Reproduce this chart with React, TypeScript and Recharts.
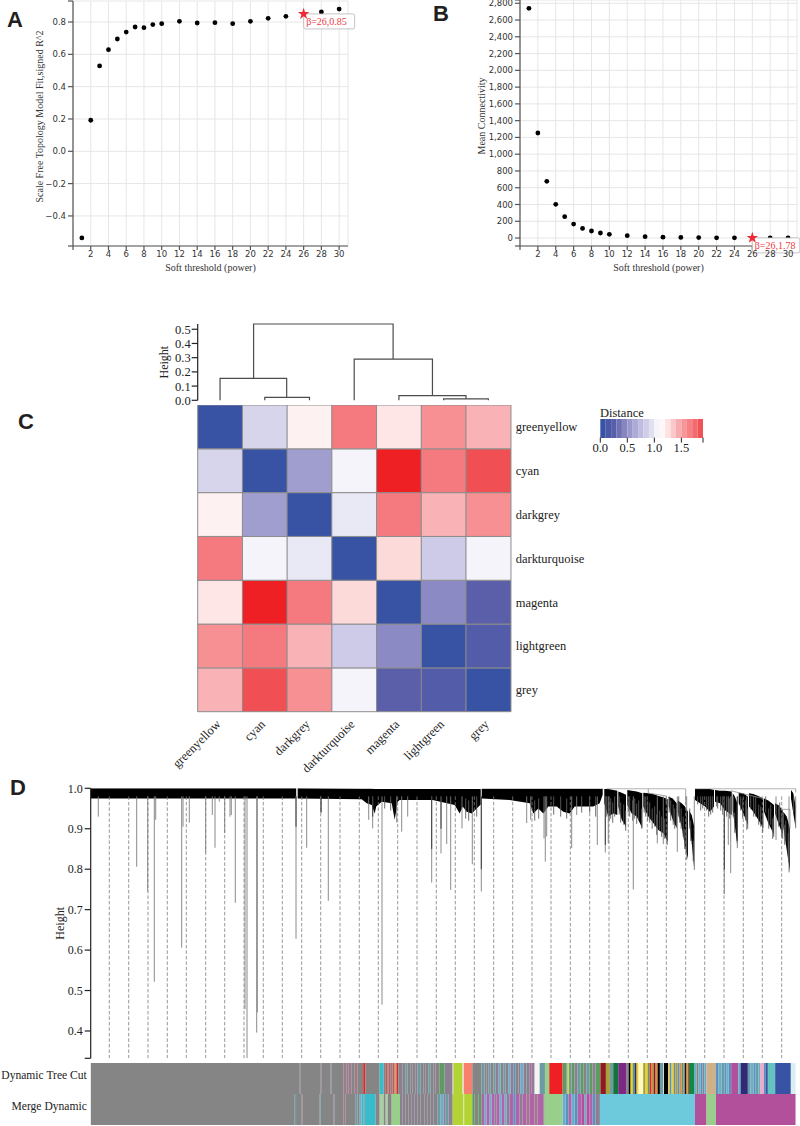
import {
  Area,
  Bar,
  BarChart,
  CartesianGrid,
  Cell,
  ComposedChart,
  Line,
  LineChart,
  Scatter,
  ScatterChart,
  Symbols,
  XAxis,
  YAxis,
} from "recharts";

const SERIF = '"Liberation Serif", serif';
const SANS = '"DejaVu Sans", sans-serif';

// panels A and B
const powers = [1, 2, 3, 4, 5, 6, 7, 8, 9, 10, 12, 14, 16, 18, 20, 22, 24, 28, 30];
const fitValues = [
  -0.536, 0.192, 0.528, 0.629, 0.695, 0.738, 0.769, 0.765, 0.784, 0.79, 0.804, 0.794, 0.796,
  0.79, 0.804, 0.823, 0.835, 0.862, 0.88,
];
const connectivityValues = [
  2740, 1253, 676, 402, 255, 167, 115, 84, 60, 44, 28, 16, 10, 7, 5, 3, 2.5, 1, 0.8,
];
const powerTicks = [0, 2, 4, 6, 8, 10, 12, 14, 16, 18, 20, 22, 24, 26, 28, 30];
const fitTicks = [-0.586, -0.4, -0.2, 0, 0.2, 0.4, 0.6, 0.8, 0.93];
const connectivityTicks = [
  -95, 0, 200, 400, 600, 800, 1000, 1200, 1400, 1600, 1800, 2000, 2200, 2400, 2600, 2800, 2839,
];
const chosenPower = 26;
const chosenFit = 0.85;
const chosenConnectivity = 1.78;

// panel C
const moduleNames = [
  "greenyellow",
  "cyan",
  "darkgrey",
  "darkturquoise",
  "magenta",
  "lightgreen",
  "grey",
];
const distanceRows = [
  [0, 0.8, 1.07, 1.55, 1.12, 1.45, 1.3],
  [0.8, 0, 0.5, 0.95, 1.9, 1.55, 1.72],
  [1.07, 0.5, 0, 0.9, 1.55, 1.3, 1.45],
  [1.55, 0.95, 0.9, 0, 1.18, 0.75, 0.95],
  [1.12, 1.9, 1.55, 1.18, 0, 0.4, 0.2],
  [1.45, 1.55, 1.3, 0.75, 0.4, 0, 0.15],
  [1.3, 1.72, 1.45, 0.95, 0.2, 0.15, 0],
];
const distanceStops: [number, string][] = [
  [0, "#3953a4"],
  [0.2, "#5b5fa9"],
  [0.4, "#8c8ac4"],
  [0.5, "#a09ece"],
  [0.75, "#cdcbe7"],
  [0.9, "#e9e9f5"],
  [1, "#ffffff"],
  [1.18, "#fddada"],
  [1.3, "#f9b3b7"],
  [1.45, "#f69092"],
  [1.55, "#f57a80"],
  [1.72, "#f05053"],
  [1.9, "#ee2024"],
];
const legendSteps = [
  0, 0.1, 0.2, 0.3, 0.4, 0.5, 0.6, 0.7, 0.8, 0.9, 1, 1.1, 1.2, 1.3, 1.4, 1.5, 1.6, 1.7, 1.8,
];
const heightTicks = [0, 0.1, 0.2, 0.3, 0.4, 0.5];

// each link is a merge: left leg, join height, right leg
const treeLinks = [
  [[0.5, 0], [0.5, 0.155], [1.99, 0.155], [1.99, 0.02]],
  [[1.5, 0], [1.5, 0.02], [2.5, 0.02], [2.5, 0]],
  [[1.25, 0.155], [1.25, 0.537], [4.37, 0.537], [4.37, 0.29]],
  [[3.5, 0], [3.5, 0.29], [5.25, 0.29], [5.25, 0.033]],
  [[4.5, 0], [4.5, 0.033], [6, 0.033], [6, 0.01]],
  [[5.5, 0], [5.5, 0.01], [6.5, 0.01], [6.5, 0]],
];

// panel D
const geneTreeTicks = [0.3325, 0.4, 0.5, 0.6, 0.7, 0.8, 0.9, 1];
const guideRanks = [
  18.6, 38, 57.3, 76.6, 95.6, 115, 134, 153.3, 172.6, 191.6, 211, 230, 249.3, 268.6, 287.6, 307,
  326.3, 345.6, 364.6, 383.6, 403, 422, 441.3, 460.3, 479.6, 499, 518.3, 537.6, 556.6, 575.6, 595,
  614, 633.3, 652.6, 671.6, 691,
];
const spikes: [number, number][] = [
  [7.6, 0.93], [46, 0.806], [57, 0.745], [63.6, 0.522], [65, 0.922], [91, 0.606], [92.3, 0.905],
  [98.6, 0.915], [115, 0.841], [121.6, 0.934], [124.3, 0.853], [128.6, 0.967], [134, 0.889],
  [139.3, 0.93], [140.6, 0.934], [144.6, 0.717], [154.3, 0.454], [156.3, 0.333], [166, 0.396],
  [166.6, 0.446], [205.3, 0.628], [216, 0.853], [230, 0.94], [237.6, 0.722], [278, 0.922],
  [282, 0.901], [291.3, 0.465], [306, 0.915], [311, 0.893], [317, 0.93], [341, 0.767],
  [350.3, 0.839], [356, 0.862], [360, 0.749], [371.3, 0.901], [381.6, 0.812], [390.6, 0.745],
  [436, 0.914], [440, 0.922], [453.3, 0.876], [454.6, 0.819], [456, 0.881], [481, 0.852],
  [486, 0.934], [506.6, 0.86], [514.6, 0.841], [517.6, 0.864], [542.6, 0.75], [566.6, 0.864],
  [572.6, 0.862], [586.6, 0.843], [596, 0.823], [603.6, 0.798], [633.6, 0.738], [637.6, 0.86],
  [640, 0.79], [646.6, 0.852], [656, 0.897], [685.3, 0.872], [698.3, 0.792], [705, 0.901],
];
const darkSpikes: [number, number][] = [
  [205.3, 0.905], [230.5, 0.94], [282, 0.93], [341, 0.85], [350.3, 0.9], [390.6, 0.8],
  [514.6, 0.86], [633.6, 0.8], [646.6, 0.87],
];
const drips: [number, number][] = [
  [516, 0.93], [520, 0.925], [524, 0.93], [530, 0.915], [533, 0.91], [539, 0.93], [544, 0.925],
  [548, 0.92], [551, 0.9], [555, 0.93], [559, 0.915], [564, 0.905], [569, 0.895], [574, 0.875],
  [576.5, 0.86], [580, 0.92], [584, 0.9], [589, 0.915], [592.5, 0.88], [595.5, 0.84], [600, 0.87],
  [607, 0.96], [612, 0.95], [616, 0.945], [620, 0.935], [627, 0.95], [632, 0.935], [639, 0.925],
  [644, 0.89], [650, 0.945], [655, 0.92], [660, 0.95], [665, 0.93], [670, 0.905], [675, 0.94],
  [680, 0.91], [683, 0.88], [689, 0.915], [692, 0.875], [695, 0.87], [697.5, 0.84], [703, 0.94],
  [294, 0.95], [300, 0.945], [375, 0.925], [378, 0.92], [386, 0.93], [444, 0.92], [448, 0.925],
  [463, 0.935], [470, 0.93], [476, 0.925], [491, 0.94], [499, 0.94], [505, 0.93],
  [518.5, 0.92], [522, 0.915], [528.5, 0.935], [535, 0.895], [537.5, 0.94], [542, 0.92],
  [546, 0.912], [553.5, 0.94], [557, 0.92], [561.5, 0.9], [566, 0.885], [571, 0.88], [578.5, 0.94],
  [582.5, 0.91], [588, 0.93], [590.5, 0.9], [594, 0.85], [599, 0.9], [602.5, 0.82], [610, 0.945],
  [618, 0.93], [622, 0.94], [626, 0.955], [630, 0.945], [636, 0.93], [642.5, 0.93], [652, 0.925],
  [657, 0.9], [663, 0.93], [668, 0.91], [672, 0.89], [678, 0.9], [682, 0.875], [688, 0.905],
  [691, 0.88], [694, 0.86], [698, 0.82],
];
// rank, upper edge, lower edge of the black band; null leaves a gap
const bandEdges: [number, number | null, number | null][] = [
  [0, 1, 0.975], [205.5, 1, 0.975], [206, null, null], [207, 1, 0.975], [271, 0.999, 0.973],
  [276, 0.999, 0.963], [281, 0.999, 0.959], [284, 0.998, 0.938], [285.5, 0.998, 0.955],
  [291, 0.998, 0.967], [301, 0.998, 0.963], [304, 0.998, 0.922], [307, 0.998, 0.967],
  [309, 0.998, 0.971], [342, 0.998, 0.971], [364, 0.998, 0.959], [369, 0.998, 0.938],
  [372, 0.998, 0.955], [376, 0.998, 0.942], [381, 0.998, 0.938], [388, 0.998, 0.955],
  [390, 0.998, 0.96], [390.5, null, null], [391, 0.999, 0.975], [419, 0.999, 0.971],
  [439, 0.999, 0.963], [442.6, 0.999, 0.938], [447.6, 0.999, 0.95], [452.6, 0.999, 0.938],
  [457.6, 0.999, 0.955], [466, 0.999, 0.955], [472.6, 0.999, 0.942], [479, 0.999, 0.938],
  [484, 0.999, 0.955], [496, 0.999, 0.955], [502.6, 0.999, 0.955], [509, 0.999, 0.963],
  [512, 0.999, 0.984], [513, null, null],
  [513.6, 0.998, 0.963], [517.6, 0.998, 0.93], [522.6, 0.996, 0.938], [526.6, 0.994, 0.934],
  [527.1, null, null],
  [527.6, 0.992, 0.955], [531, 0.989, 0.922], [535.3, 0.984, 0.905], [536, null, null],
  [536.6, 0.996, 0.959], [541, 0.994, 0.938], [546, 0.992, 0.93], [551.6, 0.988, 0.901],
  [552.1, null, null],
  [552.6, 0.989, 0.955], [557.6, 0.988, 0.93], [562.6, 0.986, 0.914], [567.6, 0.981, 0.897],
  [572.6, 0.978, 0.889], [577, 0.973, 0.868], [577.5, null, null],
  [578, 0.979, 0.955], [582, 0.975, 0.922], [586, 0.963, 0.901], [586.5, null, null],
  [587, 0.97, 0.942], [591, 0.963, 0.905], [594.3, 0.955, 0.856], [597.3, 0.942, 0.825],
  [597.8, null, null],
  [598.3, 0.946, 0.922], [601, 0.934, 0.864], [603.6, 0.905, 0.8], [604, null, null],
  [604.3, 0.998, 0.971], [609.3, 0.998, 0.963], [614.3, 0.998, 0.955], [619.3, 0.998, 0.942],
  [623.3, 0.996, 0.955], [623.8, null, null],
  [624.3, 0.996, 0.967], [629.3, 0.994, 0.963], [634.3, 0.994, 0.946], [641, 0.992, 0.934],
  [641.5, null, null],
  [642, 0.988, 0.946], [644.3, 0.979, 0.905], [646.6, 0.963, 0.856], [647.3, null, null],
  [648, 0.989, 0.963], [652.6, 0.988, 0.938], [657.3, 0.979, 0.909], [657.8, null, null],
  [658.3, 0.988, 0.955], [662.6, 0.986, 0.942], [667.6, 0.981, 0.922], [672.6, 0.975, 0.901],
  [673, null, null],
  [673.3, 0.975, 0.942], [677.6, 0.97, 0.914], [683.3, 0.959, 0.885], [683.8, null, null],
  [684.3, 0.963, 0.938], [687.6, 0.959, 0.914], [692, 0.946, 0.885], [692.3, null, null],
  [692.6, 0.942, 0.905], [696, 0.93, 0.848], [699.3, 0.901, 0.794], [699.8, null, null],
  [700.3, 0.996, 0.975], [702.6, 0.988, 0.938], [705, 0.955, 0.901],
];
const branchPoints: [number, number | null][] = [
  [516, 0.999], [595, 0.999], [595, 0.96], [595, null],
  [557.6, 0.999], [557.6, 0.988], [575.6, 0.981], [575.6, 0.963], [575.6, null],
  [604.3, 0.999], [705, 0.999], [705, 0.99], [705, null],
  [640, 0.994], [672, 0.975], [672, null],
  [690, 0.948], [699.3, 0.948], [699.3, 0.9],
];

const moduleColors: Record<string, string> = {
  grey: "#858585",
  plum: "#8d7f93",
  slate: "#7a8a96",
  rose: "#a07a8a",
  teal: "#6b9ca3",
  sky: "#6aaecb",
  steel: "#5b92bd",
  orchid: "#b063ab",
  red: "#ee2024",
  brick: "#c65a5a",
  orange: "#e58a3c",
  cyan: "#38bccb",
  aqua: "#6dc9dc",
  moss: "#5e9a62",
  sage: "#a8d0a0",
  lightgreen: "#98cf8a",
  yellowgreen: "#b3d334",
  salmon: "#f8806f",
  white: "#f4f4f4",
  pale: "#fffac0",
  darkred: "#8e1b1f",
  olive: "#a8a03a",
  gold: "#f0d21f",
  darkgreen: "#13733a",
  green: "#0d8b45",
  purple: "#7b2a83",
  black: "#000000",
  blue: "#3953a4",
  tan: "#cfb087",
  magenta: "#b3509b",
  navy: "#2e2a78",
  pink: "#f4a8c4",
  turquoise: "#63c4c0",
  ice: "#d7eef3",
};

// each run is [rank where it ends, colour module]
const treeCutRuns: [number, string][] = [
  [209, "grey"], [210, "plum"], [230, "grey"], [231, "plum"], [240, "grey"], [241, "slate"],
  [253, "grey"], [256, "rose"], [258, "grey"], [261, "rose"], [264, "grey"], [267, "rose"],
  [272.5, "grey"], [274.5, "red"], [289, "grey"], [293, "cyan"], [294.5, "grey"], [296.5, "brick"],
  [298, "grey"], [300, "brick"], [302, "grey"], [304, "brick"], [305, "orange"], [306, "grey"],
  [307.5, "red"], [309.3, "grey"], [312, "plum"], [315, "grey"], [317, "teal"], [320, "grey"],
  [322, "plum"], [325, "grey"], [327, "plum"], [330, "teal"], [333, "grey"], [335, "plum"],
  [338, "grey"], [340, "teal"], [343, "grey"], [345, "plum"], [349, "grey"], [354, "moss"],
  [362, "plum"], [362.6, "white"], [372, "yellowgreen"], [373, "white"], [381.6, "salmon"],
  [391, "grey"], [394, "teal"], [396, "grey"], [398, "plum"], [400, "teal"], [403, "grey"],
  [405, "teal"], [408, "plum"], [410, "sky"], [413, "grey"], [415, "teal"], [418, "plum"],
  [420, "sky"], [423, "plum"], [425, "steel"], [428, "grey"], [430, "plum"], [433, "sky"],
  [436, "plum"], [439, "grey"], [441, "orchid"], [444, "plum"], [449, "white"], [454.3, "teal"],
  [458.6, "lightgreen"], [472, "red"], [476, "moss"], [477, "teal"], [478.3, "gold"], [481, "teal"],
  [484, "moss"], [487, "plum"], [490, "teal"], [493, "moss"], [496, "grey"], [499, "teal"],
  [502, "moss"], [505, "plum"], [509.8, "moss"], [515.3, "darkred"], [519.3, "olive"],
  [522.6, "teal"], [527.6, "darkgreen"], [536, "purple"], [538, "grey"], [540, "black"],
  [542, "gold"], [544, "moss"], [546, "navy"], [548, "gold"], [552.6, "pale"], [555, "olive"],
  [557, "gold"], [559, "moss"], [561, "red"], [563, "olive"], [565, "darkred"], [567, "orange"],
  [569.3, "black"], [572.6, "teal"], [573.3, "white"], [577.6, "black"], [579, "gold"],
  [581, "steel"], [583, "gold"], [585, "slate"], [587, "olive"], [589, "steel"], [591, "orange"],
  [593, "moss"], [594.5, "plum"], [596, "black"], [597, "gold"], [598.3, "red"], [604, "green"],
  [606, "sky"], [608, "grey"], [610, "sky"], [612, "steel"], [614, "slate"], [616, "sky"],
  [625.3, "tan"], [628, "steel"], [631, "sky"], [634, "teal"], [636, "steel"], [638, "sky"],
  [640.6, "steel"], [647.6, "magenta"], [650, "sky"], [657.3, "navy"], [660, "teal"], [663, "sky"],
  [665, "steel"], [668, "teal"], [670, "sky"], [673.3, "pink"], [675, "steel"], [677.3, "blue"],
  [684.6, "turquoise"], [700.3, "blue"], [705, "ice"],
];
const mergedRuns: [number, string][] = [
  [204, "grey"], [205.3, "teal"], [211, "grey"], [212, "plum"], [229, "grey"], [230, "teal"],
  [243, "grey"], [244, "plum"], [253, "grey"], [255, "rose"], [265, "grey"], [267, "teal"],
  [269, "grey"], [271, "sky"], [273, "cyan"], [274, "grey"], [285, "cyan"], [289, "grey"],
  [293, "sage"], [295, "grey"], [297, "sage"], [301, "grey"], [309.3, "lightgreen"], [312, "plum"],
  [315, "grey"], [318, "plum"], [321, "grey"], [324, "plum"], [327, "grey"], [330, "plum"],
  [334, "grey"], [337, "plum"], [340, "grey"], [343, "plum"], [347, "grey"], [350, "teal"],
  [353, "sky"], [355, "plum"], [358, "teal"], [362, "plum"], [373, "yellowgreen"], [373.5, "white"],
  [381.6, "yellowgreen"], [384, "moss"], [388, "grey"], [391, "moss"], [394, "orchid"],
  [396, "sky"], [399, "orchid"], [401, "sky"], [404, "orchid"], [406, "plum"], [409, "orchid"],
  [411, "sky"], [414, "orchid"], [416, "sky"], [419, "plum"], [422.6, "orchid"], [425, "steel"],
  [429, "orchid"], [432, "plum"], [436, "orchid"], [439, "rose"], [444, "orchid"], [447, "rose"],
  [452.6, "orchid"], [454, "grey"], [472, "lightgreen"], [475, "sky"], [478, "steel"],
  [481, "orchid"], [484, "sky"], [487, "steel"], [491, "orchid"], [494, "magenta"], [496, "sky"],
  [499, "magenta"], [502, "orchid"], [505, "steel"], [509.3, "plum"], [604.3, "aqua"],
  [616, "magenta"], [625.3, "lightgreen"], [705, "magenta"],
];

const treeRowLabel = "Dynamic Tree Cut";
const mergedRowLabel = "Merge Dynamic";

const hexToRgb = (hex: string) => [
  parseInt(hex.slice(1, 3), 16),
  parseInt(hex.slice(3, 5), 16),
  parseInt(hex.slice(5, 7), 16),
];

function distanceColor(value: number): string {
  const upper = distanceStops.findIndex(([stop]) => stop >= value);
  if (upper <= 0) {
    return distanceStops[0][1];
  }
  const [lowStop, lowHex] = distanceStops[upper - 1];
  const [highStop, highHex] = distanceStops[upper];
  const share = (value - lowStop) / (highStop - lowStop);
  const low = hexToRgb(lowHex);
  const high = hexToRgb(highHex);
  const mixed = low.map((channel, i) => Math.round(channel + (high[i] - channel) * share));
  return `rgb(${mixed.join(",")})`;
}

function spikePoints(list: [number, number][], from: number | null) {
  return list.flatMap(([rank, low]) => [
    { rank, h: from ?? Math.min(low + 0.05, 0.98) },
    { rank, h: low },
    { rank, h: null },
  ]);
}

const axisText = { fontSize: 8.5, fontFamily: SANS, fill: "#333333" };
const serifText = { fontSize: 12, fontFamily: SERIF, fill: "#222222" };
const moduleText = { fontSize: 12.5, fontFamily: SERIF, fill: "#222222" };
const labelText = { fontSize: 10, fontFamily: SERIF, fill: "#333333" };

function Placed({
  left,
  top,
  children,
}: {
  left: number;
  top: number;
  children: React.ReactNode;
}) {
  return <div style={{ position: "absolute", left, top }}>{children}</div>;
}

function PanelLetter({ left, top, text }: { left: number; top: number; text: string }) {
  return (
    <div
      style={{
        position: "absolute",
        left,
        top,
        fontFamily: '"Liberation Sans", sans-serif',
        fontWeight: 700,
        fontSize: 22,
        lineHeight: "22px",
        color: "#231f20",
      }}
    >
      {text}
    </div>
  );
}

function Marked(props: any) {
  const { cx, cy, caption, boxWidth } = props;
  return (
    <g>
      <rect
        x={cx}
        y={cy}
        width={boxWidth}
        height={15}
        rx={2}
        fill="#ffffff"
        stroke="#b5b5b5"
        strokeWidth={0.8}
      />
      <Symbols cx={cx} cy={cy} type="star" size={42} fill="#ee2a3a" />
      <text x={cx + 2.5} y={cy + 11} fontSize={10} fontFamily={SERIF} fill="#ee3a45">
        {caption}
      </text>
    </g>
  );
}

function ThresholdScatter({
  width,
  height,
  marginTop,
  marginRight,
  axisWidth,
  values,
  yDomain,
  yTicks,
  yLabel,
  labelShift,
  formatY,
  markedValue,
  caption,
  boxWidth,
}: {
  width: number;
  height: number;
  marginTop: number;
  marginRight: number;
  axisWidth: number;
  values: number[];
  yDomain: [number, number];
  yTicks: number[];
  yLabel: string;
  labelShift: number;
  formatY: (value: number) => string;
  markedValue: number;
  caption: string;
  boxWidth: number;
}) {
  const points = powers.map((power, i) => ({ power, value: values[i] }));
  return (
    <ScatterChart
      width={width}
      height={height}
      margin={{ top: marginTop, right: marginRight, bottom: 0, left: 0 }}
    >
      <CartesianGrid stroke="#e6e6e6" strokeWidth={1} />
      <XAxis
        dataKey="power"
        type="number"
        domain={[0, 31]}
        ticks={powerTicks}
        interval={0}
        height={44}
        tick={axisText}
        tickFormatter={(v: number) => (v === 0 ? "" : String(v))}
        tickSize={4}
        tickMargin={1}
        stroke="#555555"
        strokeWidth={1.2}
        label={{
          value: "Soft threshold (power)",
          position: "insideBottom",
          offset: 19,
          style: labelText,
        }}
      />
      <YAxis
        dataKey="value"
        type="number"
        domain={yDomain}
        ticks={yTicks}
        interval={0}
        width={axisWidth}
        tick={axisText}
        tickFormatter={formatY}
        tickSize={5}
        tickMargin={2}
        stroke="#555555"
        strokeWidth={1.2}
        label={{
          value: yLabel,
          angle: -90,
          position: "center",
          dx: labelShift,
          dy: -7,
          style: labelText,
        }}
      />
      <XAxis
        xAxisId="frame"
        orientation="top"
        type="number"
        domain={[0, 31]}
        height={0}
        tick={false}
        tickLine={false}
        stroke="#555555"
        strokeWidth={1.2}
      />
      <YAxis
        yAxisId="frame"
        orientation="right"
        type="number"
        domain={[0, 1]}
        width={0}
        tick={false}
        tickLine={false}
        stroke="#555555"
        strokeWidth={1.2}
      />
      <Scatter
        data={points}
        isAnimationActive={false}
        shape={(p: any) => <circle cx={p.cx} cy={p.cy} r={2.4} fill="#000000" />}
      />
      <Scatter
        data={[{ power: chosenPower, value: markedValue }]}
        isAnimationActive={false}
        shape={(shapeProps: any) => (
          <Marked {...shapeProps} caption={caption} boxWidth={boxWidth} />
        )}
      />
    </ScatterChart>
  );
}

function ClusterTree() {
  return (
    <LineChart
      width={400}
      height={100}
      margin={{ top: 14, right: 29.3, bottom: 9.7, left: 0 }}
    >
      <XAxis dataKey="x" type="number" domain={[0, 7]} hide />
      <YAxis
        dataKey="h"
        type="number"
        domain={[0, 0.537]}
        ticks={heightTicks}
        interval={0}
        width={57.7}
        tick={{ ...serifText, fontSize: 12.5 }}
        tickFormatter={(v: number) => v.toFixed(1)}
        tickSize={6}
        tickMargin={1}
        stroke="#222222"
        strokeWidth={1.2}
        label={{
          value: "Height",
          angle: -90,
          position: "center",
          dx: -5,
          style: serifText,
        }}
      />
      {treeLinks.map((link, i) => (
        <Line
          key={i}
          data={link.map(([x, h]) => ({ x, h }))}
          dataKey="h"
          dot={false}
          stroke="#4c4c4c"
          strokeWidth={1.2}
          isAnimationActive={false}
        />
      ))}
    </LineChart>
  );
}

function DistanceHeatmap() {
  const columns = moduleNames.map((name) => ({ name }));
  // stack from the bottom row up, so the first row of the matrix ends on top
  const rowsBottomUp = distanceRows.map((_, i) => distanceRows.length - 1 - i);
  return (
    <BarChart
      width={460.7}
      height={390}
      data={columns}
      barCategoryGap={0}
      margin={{ top: 0, right: 0, bottom: 0, left: 57.7 }}
    >
      <XAxis
        dataKey="name"
        interval={0}
        height={83.3}
        axisLine={false}
        tickLine={false}
        tickMargin={1}
        tick={{ ...moduleText, angle: -45, textAnchor: "end", dx: -5 }}
      />
      <YAxis
        orientation="right"
        type="number"
        domain={[0, 7]}
        ticks={[6.5, 5.5, 4.5, 3.5, 2.5, 1.5, 0.5]}
        interval={0}
        width={90}
        axisLine={false}
        tickLine={false}
        tickMargin={-1}
        tick={moduleText}
        tickFormatter={(v: number) => moduleNames[Math.round(6.5 - v)]}
      />
      {rowsBottomUp.map((row) => (
        <Bar
          key={row}
          dataKey={() => 1}
          stackId="rows"
          isAnimationActive={false}
        >
          {distanceRows[row].map((value, col) => (
            <Cell key={col} fill={distanceColor(value)} stroke="#8d8d8d" strokeWidth={1} />
          ))}
        </Bar>
      ))}
    </BarChart>
  );
}

function DistanceLegend() {
  const row = [
    Object.fromEntries(legendSteps.map((step) => [`step${step}`, 0.1])),
  ];
  return (
    <BarChart
      layout="vertical"
      width={130}
      height={48}
      data={row}
      barCategoryGap={0}
      margin={{ top: 0, right: 17, bottom: 0, left: 10.3 }}
    >
      <XAxis
        type="number"
        domain={[0, 1.9]}
        ticks={[0, 0.5, 1, 1.5, 1.9]}
        interval={0}
        height={29.4}
        axisLine={false}
        tickSize={5}
        tickMargin={1}
        stroke="#222222"
        tick={moduleText}
        tickFormatter={(v: number) => (v === 1.9 ? "" : v.toFixed(1))}
      />
      <YAxis type="category" hide />
      {legendSteps.map((step) => (
        <Bar
          key={step}
          dataKey={`step${step}`}
          stackId="ramp"
          fill={distanceColor(step * 0.95)}
          isAnimationActive={false}
        />
      ))}
    </BarChart>
  );
}

function GeneTree() {
  const bandRows = bandEdges.map(([rank, high, low]) => ({
    rank,
    span: high === null ? null : [low, high],
  }));
  const guides = spikePoints(
    guideRanks.map((rank) => [rank, 0.3325] as [number, number]),
    0.98,
  );
  return (
    <ComposedChart
      width={800}
      height={282}
      data={bandRows}
      margin={{ top: 8.3, right: 4.3, bottom: 0.7, left: 0 }}
    >
      <XAxis
        dataKey="rank"
        type="number"
        domain={[0, 705]}
        ticks={guideRanks}
        interval={0}
        height={3}
        axisLine={false}
        tickSize={2}
        stroke="#777777"
        tick={false}
      />
      <YAxis
        type="number"
        domain={[0.3325, 1]}
        allowDataOverflow
        ticks={geneTreeTicks}
        interval={0}
        width={90.7}
        tick={serifText}
        tickFormatter={(v: number) => (v === 0.3325 ? "" : v.toFixed(1))}
        tickSize={6}
        tickMargin={2}
        stroke="#222222"
        strokeWidth={1.2}
        label={{
          value: "Height",
          angle: -90,
          position: "center",
          dx: 14,
          style: serifText,
        }}
      />
      <Line
        data={guides}
        dataKey="h"
        dot={false}
        stroke="#7c7c7c"
        strokeWidth={0.8}
        strokeDasharray="3.5 2"
        isAnimationActive={false}
      />
      <Line
        data={spikePoints(spikes, 0.98)}
        dataKey="h"
        dot={false}
        stroke="#7e7e7e"
        strokeWidth={0.9}
        isAnimationActive={false}
      />
      <Line
        data={spikePoints(drips, null)}
        dataKey="h"
        dot={false}
        stroke="#5c5c5c"
        strokeWidth={0.9}
        isAnimationActive={false}
      />
      <Line
        data={spikePoints(darkSpikes, 0.98)}
        dataKey="h"
        dot={false}
        stroke="#333333"
        strokeWidth={0.9}
        isAnimationActive={false}
      />
      <Line
        data={branchPoints.map(([rank, h]) => ({ rank, h }))}
        dataKey="h"
        dot={false}
        stroke="#8c8c8c"
        strokeWidth={0.8}
        isAnimationActive={false}
      />
      <Area
        dataKey="span"
        type="linear"
        fill="#000000"
        fillOpacity={1}
        stroke="none"
        isAnimationActive={false}
      />
    </ComposedChart>
  );
}

function RowName({ x, y, payload }: any) {
  return (
    <text
      x={x}
      y={y}
      dx={-4}
      textAnchor="end"
      fontSize={11.6}
      fontFamily={SERIF}
      fill="#222222"
    >
      {payload.value}
    </text>
  );
}

function ModuleStrip({ label, runs }: { label: string; runs: [number, string][] }) {
  const row: Record<string, string | number> = { label };
  runs.forEach(([end], i) => {
    row[`run${i}`] = end - (i === 0 ? 0 : runs[i - 1][0]);
  });
  return (
    <BarChart
      layout="vertical"
      width={800}
      height={31.2}
      data={[row]}
      barCategoryGap={0}
      margin={{ top: 0, right: 4.3, bottom: 0, left: 0 }}
    >
      <XAxis type="number" domain={[0, 705]} hide />
      <YAxis
        type="category"
        dataKey="label"
        width={90.7}
        axisLine={false}
        tickLine={false}
        tickSize={0}
        tickMargin={0}
        tick={RowName}
      />
      {runs.map(([, name], i) => (
        <Bar
          key={i}
          dataKey={`run${i}`}
          stackId="runs"
          fill={moduleColors[name]}
          isAnimationActive={false}
        />
      ))}
    </BarChart>
  );
}

export default function App() {
  return (
    <div
      style={{
        position: "absolute",
        left: 0,
        top: 0,
        width: 800,
        height: 1126,
        background: "#ffffff",
        overflow: "hidden",
      }}
    >
      <PanelLetter left={7} top={9} text="A" />
      <PanelLetter left={433} top={3} text="B" />
      <PanelLetter left={18} top={411} text="C" />
      <PanelLetter left={10} top={777} text="D" />

      <Placed left={0} top={0}>
        <ThresholdScatter
          width={400}
          height={290}
          marginTop={1}
          marginRight={52}
          axisWidth={73}
          values={fitValues}
          yDomain={[-0.586, 0.93]}
          yTicks={fitTicks}
          yLabel="Scale Free Topology Model Fit,signed R^2"
          labelShift={3}
          formatY={(v) =>
            v === -0.586 || v === 0.93 ? "" : v.toFixed(1).replace("-", "\u2212")
          }
          markedValue={chosenFit}
          caption={`β=${chosenPower},${chosenFit}`}
          boxWidth={51}
        />
      </Placed>
      <Placed left={420} top={0}>
        <ThresholdScatter
          width={380}
          height={290}
          marginTop={0}
          marginRight={3}
          axisWidth={100}
          values={connectivityValues}
          yDomain={[-95, 2839]}
          yTicks={connectivityTicks}
          yLabel="Mean Connectivity"
          labelShift={11.7}
          formatY={(v) => (v === -95 || v === 2839 ? "" : v.toLocaleString("en-US"))}
          markedValue={chosenConnectivity}
          caption={`β=${chosenPower},${chosenConnectivity}`}
          boxWidth={47.5}
        />
      </Placed>

      <Placed left={140} top={310}>
        <ClusterTree />
      </Placed>
      <Placed left={140} top={405}>
        <DistanceHeatmap />
      </Placed>
      <div
        style={{
          position: "absolute",
          left: 600,
          top: 406,
          fontFamily: SERIF,
          fontSize: 12.5,
          color: "#222222",
        }}
      >
        Distance
      </div>
      <Placed left={590} top={419}>
        <DistanceLegend />
      </Placed>

      <Placed left={0} top={780}>
        <GeneTree />
      </Placed>
      <Placed left={0} top={1063.2}>
        <ModuleStrip label={treeRowLabel} runs={treeCutRuns} />
      </Placed>
      <Placed left={0} top={1094.4}>
        <ModuleStrip label={mergedRowLabel} runs={mergedRuns} />
      </Placed>
    </div>
  );
}
